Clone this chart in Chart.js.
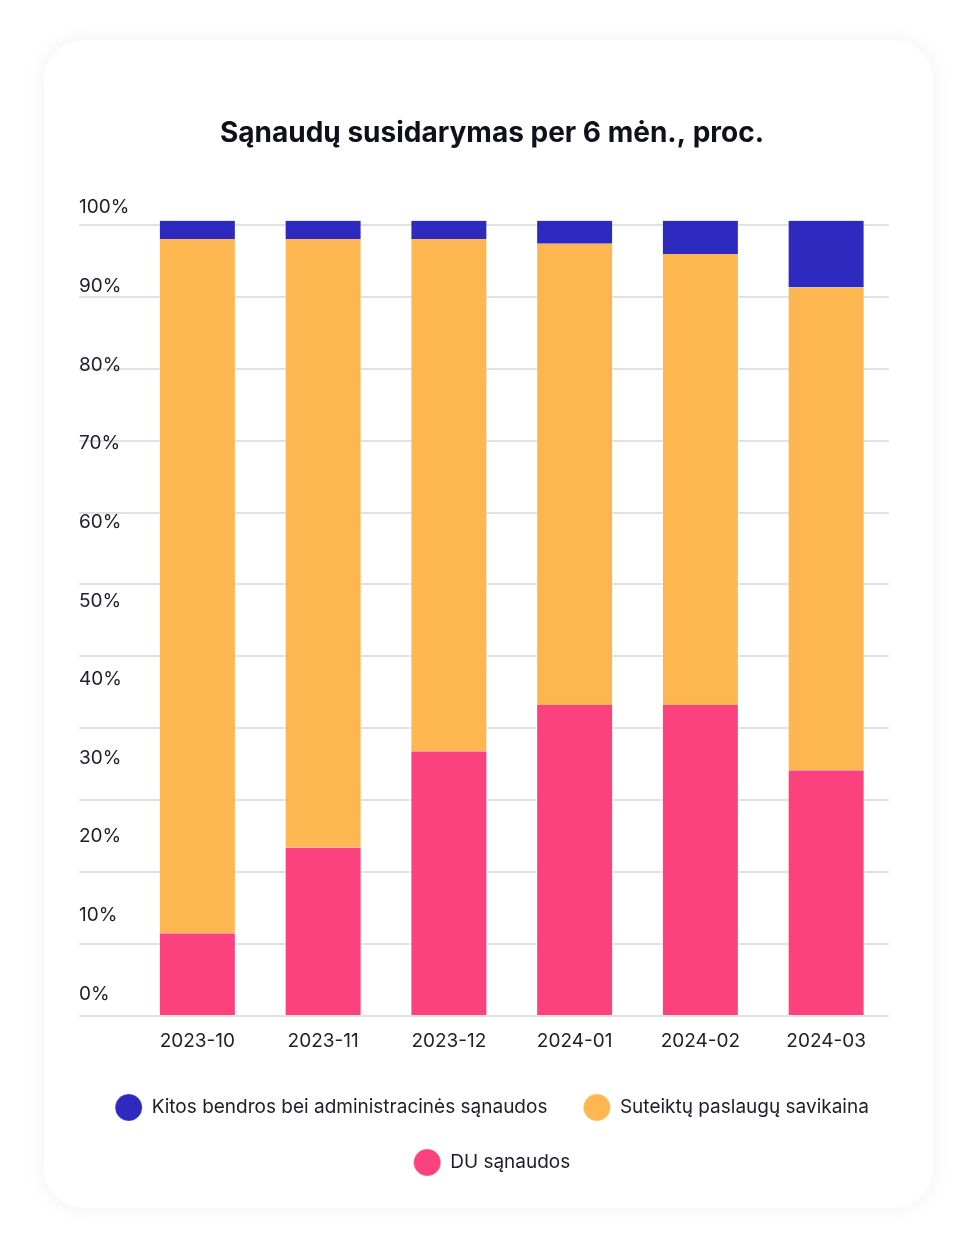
<!DOCTYPE html>
<html lang="lt">
<head>
<meta charset="utf-8">
<title>Sąnaudų susidarymas per 6 mėn.</title>
<script src="https://cdn.jsdelivr.net/npm/chart.js@4/dist/chart.umd.min.js"></script>
<style>
  html, body { margin: 0; padding: 0; background: #fff; }
  .card {
    position: absolute; left: 44px; top: 40px; width: 889px; height: 1168px;
    background: #fff; border-radius: 40px;
    box-shadow: 0 0 22px rgba(0, 0, 0, 0.06);
  }
</style>
</head>
<body>
<div class="card"><canvas id="bars"></canvas></div>
<script>
// months and shares (%)
const months = ['2023-10', '2023-11', '2023-12', '2024-01', '2024-02', '2024-03'];
const duShare = [10.4, 21.2, 33.3, 39.1, 39.1, 30.9];
const costShare = [87.3, 76.5, 64.4, 58.0, 56.7, 60.7];
const otherShare = [2.3, 2.3, 2.3, 2.9, 4.2, 8.4];
const percentTicks = [0, 10, 20, 30, 40, 50, 60, 70, 80, 90, 100];

// the gridlines in the original sit on 11 even steps that stop just under 100
const gridTop = 99.46;
const gridValues = [];
for (let k = 0; k <= 11; k++) gridValues.push(gridTop * k / 11);

const ink = '#1d1d2b';
Chart.defaults.font.family = 'Inter, "Noto Sans", sans-serif';
Chart.defaults.color = ink;

const barsCtx = document.getElementById('bars');
window.costChart = new Chart(barsCtx, {
  type: 'bar',
  data: {
    labels: months,
    datasets: [
      { label: 'DU sąnaudos', data: duShare, backgroundColor: '#fb417e' },
      { label: 'Suteiktų paslaugų savikaina', data: costShare, backgroundColor: '#feb750' },
      { label: 'Kitos bendros bei administracinės sąnaudos', data: otherShare, backgroundColor: '#2e2ac0' },
    ],
  },
  options: {
    responsive: true,
    maintainAspectRatio: false,
    animation: false,
    layout: { padding: { top: 40, left: 35, right: 28, bottom: 26 } },
    datasets: {
      bar: {
        barPercentage: 0.612,
        categoryPercentage: 1,
        borderWidth: { left: 1, right: 1, top: 0, bottom: 0 },
        borderColor: 'rgba(255,255,255,0.45)',
      },
    },
    plugins: {
      title: {
        display: true,
        text: 'Sąnaudų susidarymas per 6 mėn., proc.',
        color: '#10101c',
        font: { size: 28, weight: 700 },
        padding: { top: 37, bottom: 70 },
      },
      legend: {
        position: 'bottom',
        reverse: true,
        labels: {
          usePointStyle: true,
          pointStyle: 'circle',
          pointStyleWidth: 27,
          padding: 36,
          color: ink,
          font: { size: 19 },
        },
      },
      tooltip: { enabled: false },
    },
    scales: {
      x: {
        stacked: true,
        grid: { display: false },
        border: { display: false },
        ticks: { padding: 6, font: { size: 19 } },
        afterFit: (s) => { s.height = 46; },
      },
      y: {
        stacked: true,
        min: 0,
        max: 100,
        weight: 0,
        grid: { color: '#e1e1e1', lineWidth: 2, tickLength: 55.5 },
        border: { display: false },
        ticks: { display: false },
        afterBuildTicks: (s) => { s.ticks = gridValues.map(v => ({ value: v })); },
        afterFit: (s) => { s.width = 0; },
      },
      yLabels: {
        type: 'linear',
        position: 'left',
        weight: 1,
        min: -2.8,
        max: 98.35,
        grid: { display: false },
        border: { display: false },
        ticks: {
          autoSkip: false,
          crossAlign: 'far',
          font: { size: 19 },
          callback: (v) => v + '%',
        },
        afterBuildTicks: (s) => { s.ticks = percentTicks.map(v => ({ value: v })); },
        afterFit: (s) => { s.width = 55.5; },
      },
      yPad: {
        type: 'linear',
        position: 'right',
        grid: { display: false },
        border: { display: false },
        ticks: { display: false },
        afterFit: (s) => { s.width = 16; },
      },
    },
  },
});
</script>
</body>
</html>
